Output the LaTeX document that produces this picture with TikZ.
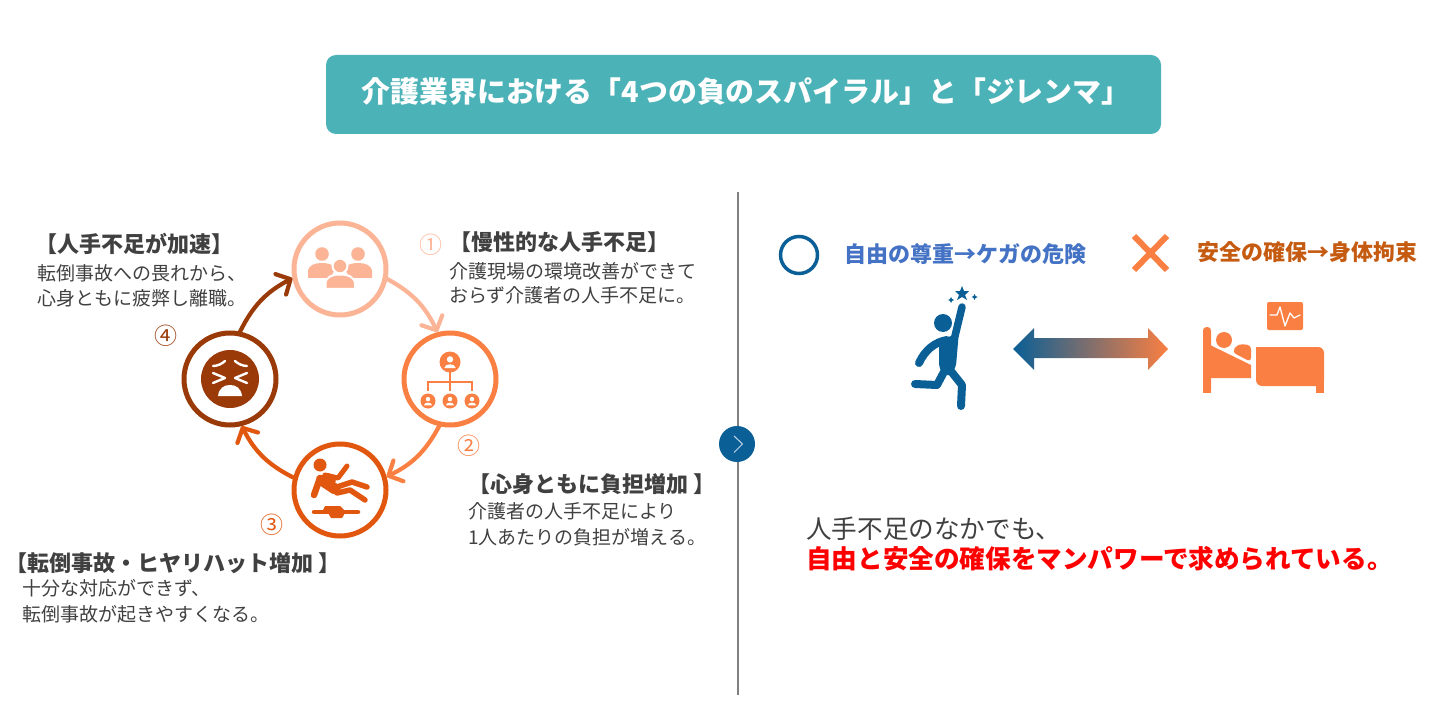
\documentclass[tikz,border=0pt]{standalone}
\usepackage{fontspec}
\setmainfont{Noto Sans CJK JP}
\usetikzlibrary{arrows.meta}
\definecolor{cA}{HTML}{FBB596}
\definecolor{cB}{HTML}{FA7F42}
\definecolor{cC}{HTML}{E2570F}
\definecolor{cD}{HTML}{993A08}
\definecolor{teal}{HTML}{4BB2B7}
\definecolor{blueD}{HTML}{0A5F96}
\definecolor{txt}{HTML}{404040}
\definecolor{blueT}{HTML}{4472C4}
\definecolor{orT}{HTML}{C55A11}
\tikzset{
  ring/.style={circle,draw,line width=5pt,minimum size=92pt,inner sep=0pt,fill=white},
  flow/.style={line width=4.2pt,line cap=round,-{Straight Barb[length=11pt,width=23pt,line width=4.2pt,round]}},
  head/.style={anchor=west,font=\fontsize{22}{22}\selectfont\bfseries,text=txt,inner sep=0pt},
  body/.style={anchor=west,font=\fontsize{19}{19}\selectfont,text=txt,inner sep=0pt},
  num/.style={font=\fontsize{23}{23}\selectfont,inner sep=0pt},
  lim/.style={line cap=round,line join=round},
}
\begin{document}
\begin{tikzpicture}[x=1pt,y=-1pt]
\useasboundingbox (0,0) rectangle (1445,711);
% title
\node[fill=teal,rounded corners=10pt,minimum width=835pt,minimum height=79pt,inner sep=0pt] (band) at (743.5,94.5) {};
\node[anchor=center,text=white,inner sep=0pt,font=\fontsize{28.9}{28.9}\selectfont\bfseries] (title) at (746,92) {介護業界における「4つの負のスパイラル」と「ジレンマ」};
% divider
\coordinate (dt) at (738,192);
\coordinate (db) at (738,695);
\draw[color=black!50,line width=1.4pt] (dt) -- (db);
\node[circle,fill=blueD,minimum size=36pt,inner sep=0pt] (go) at (737,444) {};
\draw[color=white!75!blueD,line width=1pt] (734,436) -- (742.5,444) -- (734,452.5);
% rings
\node[ring,draw=cA] (nA) at (340,269) {};
\node[ring,draw=cB] (nB) at (450,379) {};
\node[ring,draw=cC] (nC) at (340,490) {};
\node[ring,draw=cD] (nD) at (230,379) {};
\draw[flow,color=cA] (nA.-12) to[bend left=18] (nB.105);
\draw[flow,color=cB] (nB.-103) to[bend left=18] (nC.16);
\draw[flow,color=cC] (nC.165) to[bend left=18] (nD.-76);
\draw[flow,color=cD] (nD.78) to[bend left=18] (nA.191);
% people icon
\begin{scope}[color=cA,fill=cA]
\fill (322,254) circle (6.8);
\fill (358,254) circle (6.8);
\fill (308,278) -- (308,272) .. controls (308,265) and (315,263) .. (322,263) .. controls (329,263) and (333,265) .. (336,268) -- (330,278) -- cycle;
\fill (372,278) -- (372,272) .. controls (372,265) and (365,263) .. (358,263) .. controls (351,263) and (347,265) .. (344,268) -- (350,278) -- cycle;
\draw[white,line width=2pt,fill=cA] (340,266) circle (7.4);
\draw[white,line width=2pt,fill=cA] (325.5,289) -- (325.5,284) .. controls (325.5,277) and (332,274.5) .. (340,274.5) .. controls (348,274.5) and (355,277) .. (355,284) -- (355,289) -- cycle;
\end{scope}
% organisation icon
\begin{scope}[color=cB]
\draw[line width=1.8pt] (450,372) -- (450,391) (428,391) -- (428,382) -- (472,382) -- (472,391);
\foreach \x/\y/\r in {450/362/10.5,428/401/7.5,450/401/7.5,472/401/7.5}{
  \fill[cB] (\x,\y) circle (\r);
  \fill[white] (\x,\y-0.25*\r) circle (0.3*\r);
  \fill[white] (\x-0.55*\r,\y+0.58*\r) .. controls (\x-0.5*\r,\y+0.1*\r) and (\x+0.5*\r,\y+0.1*\r) .. (\x+0.55*\r,\y+0.58*\r) -- cycle;
}
\end{scope}
% falling person icon
\begin{scope}[color=cC]
\fill[cC] (320,465) circle (6.5);
\draw[lim,line width=11pt] (323,481) -- (335,489);
\draw[lim,line width=5pt] (325,475) -- (338,478) -- (347,466);
\draw[lim,line width=6.5pt] (320,478) -- (314,495);
\fill[cC] (316,477) -- (329,473) -- (336,481) -- (330,488) -- cycle;
\draw[lim,line width=5.5pt] (337,487) -- (352,482) -- (367,487);
\draw[lim,line width=5.5pt] (337,493) -- (350,490) -- (365,500);
\draw[lim,line width=4.5pt] (314,512) -- (358,512);
\fill[cC] (322,512) -- (325,506) -- (340,506) -- (345,511) -- (345,513) -- (342,518) -- (331,518) -- (328,513) -- cycle;
\end{scope}
% face icon
\fill[cD] (230,379) circle (29);
\begin{scope}[color=white,line width=2.4pt,line cap=round,line join=round]
\draw (213,373) -- (225,378) -- (213,383);
\draw (247,373) -- (235,378) -- (247,383);
\draw (213,366) .. controls (217,366) and (222,364) .. (225,361);
\draw (247,366) .. controls (243,366) and (238,364) .. (235,361);
\fill[white] (218,396) .. controls (219,388) and (224,385) .. (230,385) .. controls (236,385) and (241,388) .. (242,396) -- cycle;
\end{scope}
% numbers
\node[num,text=cA] (n1) at (431,245) {①};
\node[num,text=cB] (n2) at (469,446) {②};
\node[num,text=cC] (n3) at (272,525) {③};
\node[num,text=cD] (n4) at (166,336) {④};
% left texts
\node[head] (h4) at (35,244) {【人手不足が加速】};
\node[body] (b4a) at (37,273) {転倒事故への畏れから、};
\node[body] (b4b) at (37,298) {心身ともに疲弊し離職。};
\node[head] (h1) at (449,242) {【慢性的な人手不足】};
\node[body] (b1a) at (449,271) {介護現場の環境改善ができて};
\node[body] (b1b) at (449,295) {おらず介護者の人手不足に。};
\node[head] (h2) at (468,484) {【心身ともに負担増加 】};
\node[body] (b2a) at (468,511) {介護者の人手不足により};
\node[body] (b2b) at (468,537) {1人あたりの負担が増える。};
\node[head] (h3) at (5,563) {【転倒事故・ヒヤリハット増加 】};
\node[body] (b3a) at (22,588) {十分な対応ができず、};
\node[body] (b3b) at (22,614) {転倒事故が起きやすくなる。};
% right top
\node[circle,draw=blueD,line width=3.5pt,minimum size=37pt,inner sep=0pt] (ok) at (799,255) {};
\node[anchor=west,inner sep=0pt,text=blueT,font=\fontsize{22}{22}\selectfont\bfseries] (okt) at (844,254) {自由の尊重→ケガの危険};
\draw[cB,line width=6pt] (1134,236) -- (1167,270) (1167,236) -- (1134,270);
\node[anchor=west,inner sep=0pt,text=orT,font=\fontsize{22}{22}\selectfont\bfseries] (ngt) at (1197,252) {安全の確保→身体拘束};
% runner
\begin{scope}[color=blueD]
\fill[blueD] (943,323) circle (9);
\draw[lim,line width=7.5pt] (955,336) -- (962,307);
\fill[blueD,rounded corners=2pt] (939,343) -- (959,331) -- (956,366) -- (951,375) -- (943,375) -- (939,366) -- cycle;
\draw[lim,line width=8pt] (947,340) .. controls (935,342) and (925,350) .. (919,363);
\draw[lim,line width=8pt] (945,370) -- (937,385) -- (915,384);
\draw[lim,line width=8pt] (950,370) -- (962,385) -- (961,406);
\fill[blueD] (962,286) -- (964,291) -- (969,291) -- (965,295) -- (967,300) -- (962,297) -- (957,300) -- (959,295) -- (955,291) -- (960,291) -- cycle;
\fill[blueD] (951,297) -- (952,299) -- (954,300) -- (952,301) -- (951,303) -- (950,301) -- (948,300) -- (950,299) -- cycle;
\fill[blueD] (974.5,294) -- (975.5,296) -- (977.5,297) -- (975.5,298) -- (974.5,300) -- (973.5,298) -- (971.5,297) -- (973.5,296) -- cycle;
\end{scope}
% gradient arrow
\shade[left color=blueD,right color=cB] (1013,349) -- (1034,328) -- (1034,338) -- (1148,338) -- (1148,328) -- (1168,349) -- (1148,370) -- (1148,358) -- (1034,358) -- (1034,370) -- cycle;
% bed
\fill[cB,rounded corners=2pt] (1267,302) rectangle (1303,330);
\draw[white,line width=1.3pt,line join=round,line cap=round] (1270,315) -- (1277,315) -- (1280,307) -- (1285,326) -- (1290,313) -- (1294,318) -- (1300,315);
\fill[cB,rounded corners=3.5pt] (1203,393) -- (1203,327) -- (1211,327) -- (1211,393) -- cycle;
\fill[cB] (1203,393) rectangle (1211,385);
\fill[cB] (1210,345) -- (1251,365) -- (1251,378) -- (1210,378) -- cycle;
\fill[cB] (1224,340) circle (8);
\fill[cB,rounded corners=4pt] (1232,352) -- (1238,344) -- (1251,345) -- (1251,362) -- cycle;
\fill[cB,rounded corners=6pt] (1256,347) -- (1324,347) -- (1324,386) -- (1256,386) -- cycle;
\fill[cB] (1256,347) rectangle (1266,360);
\fill[cB] (1316,376) rectangle (1324,393);
% bottom text
\node[anchor=west,inner sep=0pt,text=txt,font=\fontsize{25.6}{25.6}\selectfont] (c1) at (806,529) {人手不足のなかでも、};
\node[anchor=west,inner sep=0pt,text=red,font=\fontsize{25.6}{25.6}\selectfont\bfseries] (c2) at (806,559) {自由と安全の確保をマンパワーで求められている。};
\end{tikzpicture}
\end{document}
